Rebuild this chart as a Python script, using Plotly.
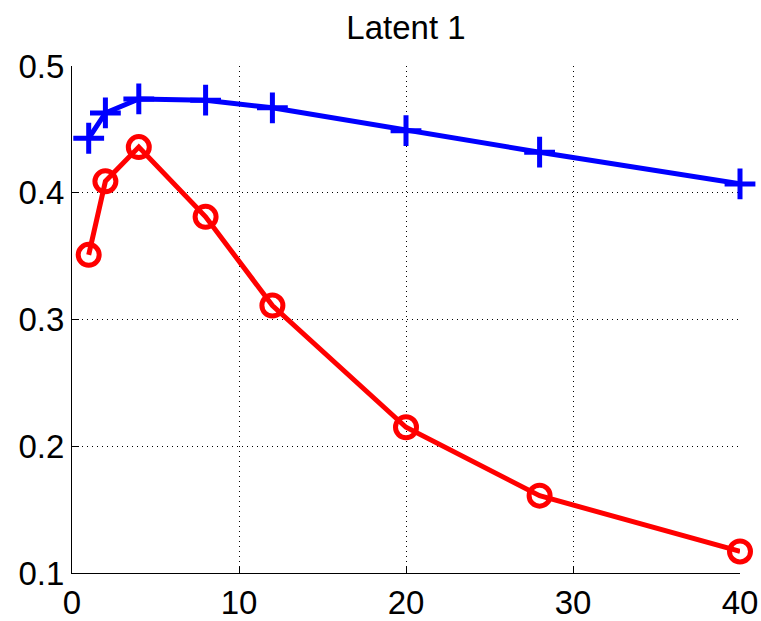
import plotly.graph_objects as go

x_vals = [1, 2, 4, 8, 12, 20, 28, 40]
blue_vals = [0.443, 0.463, 0.474, 0.473, 0.467, 0.449, 0.432, 0.407]
red_vals = [0.351, 0.409, 0.436, 0.381, 0.311, 0.215, 0.161, 0.117]
x_ticks = [0, 10, 20, 30, 40]
y_ticks = [0.1, 0.2, 0.3, 0.4, 0.5]
y_tick_labels = ["0.1", "0.2", "0.3", "0.4", "0.5"]
title_text = "Latent 1"

FONT = "Liberation Sans, Arial, Helvetica, sans-serif"

W, H = 761, 621

fig = go.Figure()
fig.add_trace(go.Scatter(
    x=x_vals, y=red_vals, mode="lines+markers",
    line=dict(color="#ff0000", width=5),
    marker=dict(symbol="circle-open", size=21, color="#ff0000", line=dict(width=5, color="#ff0000")),
    showlegend=False, cliponaxis=False,
))
fig.add_trace(go.Scatter(
    x=x_vals, y=blue_vals, mode="lines+markers",
    line=dict(color="#0000ff", width=5),
    marker=dict(symbol="cross-thin-open", size=22, color="#0000ff", line=dict(width=5, color="#0000ff")),
    showlegend=False, cliponaxis=False,
))

axis_common = dict(
    showline=True, linecolor="black", linewidth=1, mirror=False,
    ticks="inside", ticklen=7, tickcolor="black", tickwidth=1,
    showgrid=True, gridcolor="black", gridwidth=1, griddash="1px,4px",
    zeroline=False, automargin=False,
    tickfont=dict(family=FONT, size=33, color="black"),
)

fig.update_xaxes(range=[0, 40], tickvals=x_ticks, **axis_common)
fig.update_yaxes(range=[0.1, 0.5], tickvals=y_ticks, ticktext=y_tick_labels, **axis_common)

fig.update_layout(
    width=W, height=H,
    margin=dict(l=72, r=21, t=66, b=48),
    paper_bgcolor="white", plot_bgcolor="white",
    title=dict(text=title_text, x=0.5, xanchor="center", xref="paper",
               y=1 - 27 / H, yanchor="middle", automargin=False,
               font=dict(family=FONT, size=33, color="black")),
)

fig.write_html(
    "out.html",
    config={"displayModeBar": False},
    post_script="document.body.style.margin='0';document.body.style.overflow='hidden';",
)
